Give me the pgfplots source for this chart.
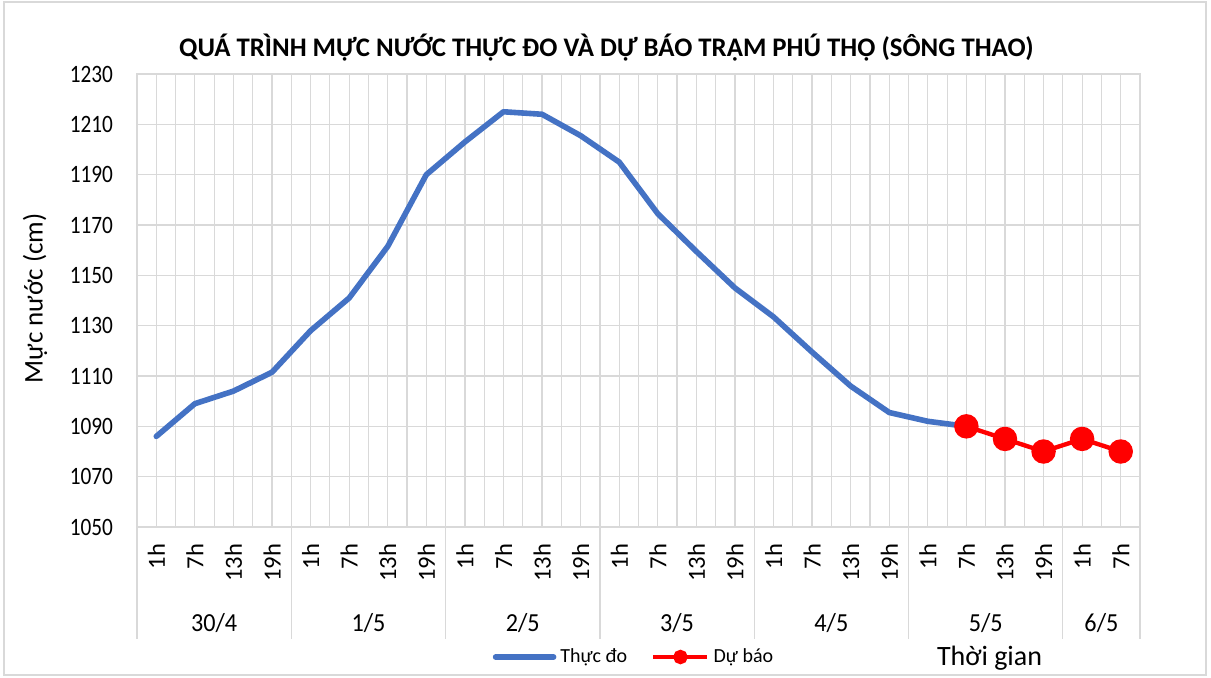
\documentclass[border=0pt]{standalone}
\usepackage{pgfplots}
\pgfplotsset{compat=1.18}
\usepackage{fontspec}
\setmainfont{Carlito}
\newfontfamily\tickfont[FakeStretch=0.85]{Carlito}
\newfontfamily\datefont[FakeStretch=0.93]{Carlito}
\definecolor{obsblue}{HTML}{4472C4}
\definecolor{gridgray}{HTML}{D9D9D9}
\pgfplotsset{
 obsleg/.style={legend image code/.code={\draw[##1] (0pt,0pt) -- (29pt,0pt);}},
 fcleg/.style={legend image code/.code={\draw[##1,mark repeat=2,mark phase=2] plot coordinates {(0pt,0pt) (13.5pt,0pt) (27pt,0pt)};}},
}
\begin{document}
\begin{tikzpicture}
\path (0,0) rectangle (605.5pt,338.5pt);
\draw[gridgray, line width=0.6pt] (2pt,1pt) rectangle (603pt,337.5pt);
\begin{axis}[
 at={(68.5pt,75pt)}, anchor=south west,
 scale only axis, width=501.5pt, height=226.5pt,
 xmin=-0.5, xmax=25.5, ymin=1050, ymax=1230,
 xtick={0,...,25},
 xticklabels={1h,7h,13h,19h,1h,7h,13h,19h,1h,7h,13h,19h,1h,7h,13h,19h,1h,7h,13h,19h,1h,7h,13h,19h,1h,7h},
 minor x tick num=1,
 ytick={1050,1070,1090,1110,1130,1150,1170,1190,1210,1230},
 grid=both,
 major grid style={gridgray, line width=0.6pt},
 minor grid style={gridgray, line width=0.6pt},
 major tick length=0pt, minor tick length=0pt,
 axis line style={gridgray, line width=0.6pt},
 xticklabel style={rotate=90, anchor=east, font=\fontsize{12.3}{14}\selectfont},
 xticklabel shift=5pt,
 yticklabel style={font=\tickfont\fontsize{12.5}{14}\selectfont},
 yticklabel shift=8.5pt,
 /pgf/number format/assume math mode=true,
 /pgf/number format/1000 sep={},
 clip=false,
 legend columns=2,
 legend style={at={(axis description cs:0.4965,-0.287)}, anchor=center, draw=none, fill=none,
   font=\fontsize{10}{12}\selectfont, /tikz/every even column/.append style={column sep=10pt},
   /tikz/every odd column/.append style={inner sep=0.5pt}},
 legend cell align=left,
]
\addplot[obsblue, line width=2.8pt, line join=round, line cap=round, obsleg] coordinates {
 (0,1086) (1,1099) (2,1104) (3,1111.5) (4,1128) (5,1141) (6,1161.5) (7,1190)
 (8,1203) (9,1215) (10,1214) (11,1205.5) (12,1195) (13,1174.5) (14,1159.5) (15,1145)
 (16,1133.5) (17,1119.5) (18,1106) (19,1095.5) (20,1092) (21,1090)};
\addlegendentry{Thực đo}
\addplot[red, line width=2.2pt, mark=*, mark size=5pt, forget plot] coordinates {
 (21,1090) (22,1085) (23,1080) (24,1085) (25,1080)};
\addlegendimage{red, line width=2.2pt, mark=*, mark size=2.5pt, fcleg}
\addlegendentry{Dự báo}
\pgfplotsinvokeforeach{-0.5,3.5,7.5,11.5,15.5,19.5,23.5,25.5}{
  \draw[gridgray, line width=0.6pt] (axis cs:#1,1050) -- (axis cs:#1,1005.5);
}
\node[font=\datefont\fontsize{13}{15}\selectfont] at (axis cs:1.5,1012) {30/4};
\node[font=\datefont\fontsize{13}{15}\selectfont] at (axis cs:5.5,1012) {1/5};
\node[font=\datefont\fontsize{13}{15}\selectfont] at (axis cs:9.5,1012) {2/5};
\node[font=\datefont\fontsize{13}{15}\selectfont] at (axis cs:13.5,1012) {3/5};
\node[font=\datefont\fontsize{13}{15}\selectfont] at (axis cs:17.5,1012) {4/5};
\node[font=\datefont\fontsize{13}{15}\selectfont] at (axis cs:21.5,1012) {5/5};
\node[font=\datefont\fontsize{13}{15}\selectfont] at (axis cs:24.5,1012) {6/5};
\node[font=\bfseries\fontsize{13.4}{15}\selectfont] at (axis description cs:0.468,1.0574) {QUÁ TRÌNH MỰC NƯỚC THỰC ĐO VÀ DỰ BÁO TRẠM PHÚ THỌ (SÔNG THAO)};
\node[rotate=90, font=\fontsize{13.5}{15}\selectfont] at (axis description cs:-0.1017,0.505) {Mực nước (cm)};
\node[font=\fontsize{14}{16}\selectfont] at (axis description cs:0.850,-0.289) {Thời gian};
\end{axis}
\end{tikzpicture}
\end{document}
